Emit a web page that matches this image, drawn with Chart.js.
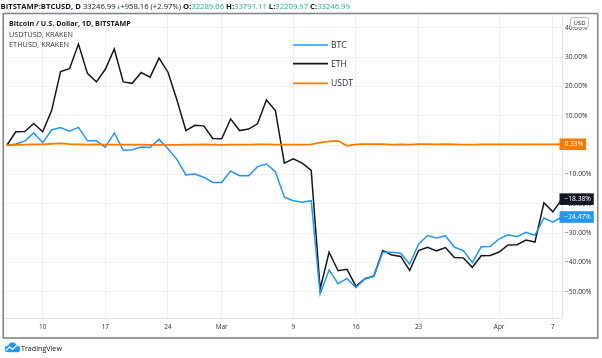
<!DOCTYPE html>
<html><head><meta charset="utf-8">
<script src="https://cdn.jsdelivr.net/npm/chart.js@4.4.0/dist/chart.umd.min.js"></script>
<style>html,body{margin:0;padding:0;background:#fff;}#wrap{position:relative;width:602px;height:358px;}</style>
</head><body><div id="wrap"><canvas id="c" width="602" height="358"></canvas></div>
<script>
const dates = ['Feb 6','Feb 7','Feb 8','Feb 9','Feb 10','Feb 11','Feb 12','Feb 13','Feb 14','Feb 15','Feb 16','Feb 17','Feb 18','Feb 19','Feb 20','Feb 21','Feb 22','Feb 23','Feb 24','Feb 25','Feb 26','Feb 27','Feb 28','Feb 29',
'Mar 1','Mar 2','Mar 3','Mar 4','Mar 5','Mar 6','Mar 7','Mar 8','Mar 9','Mar 10','Mar 11','Mar 12','Mar 13','Mar 14','Mar 15','Mar 16','Mar 17','Mar 18','Mar 19','Mar 20','Mar 21','Mar 22','Mar 23','Mar 24','Mar 25','Mar 26','Mar 27','Mar 28','Mar 29','Mar 30','Mar 31',
'Apr 1','Apr 2','Apr 3','Apr 4','Apr 5','Apr 6','Apr 7','Apr 8'];
const btc = [0,0.4,1.4,4.2,0.9,5.2,6.0,4.8,6.1,1.5,1.5,-0.7,4.2,-1.7,-1.5,-0.6,-0.8,2.0,-1.2,-4.8,-10.1,-9.8,-10.9,-12.7,
-12.7,-8.8,-10.4,-10.4,-7.3,-6.4,-9.0,-17.7,-18.9,-19.4,-18.9,-50.7,-42.5,-47.2,-45.4,-48.5,-45.6,-44.6,-36.5,-36.5,-36.8,-40.5,-33.7,-30.8,-31.6,-30.9,-34.8,-35.9,-40.0,-34.6,-34.5,
-31.9,-30.5,-31.2,-29.7,-30.7,-24.8,-26.2,-24.47];
const eth = [0,4.6,4.7,7.4,4.6,11.8,25.1,26.1,34.5,24.5,21.6,25.9,32.8,21.6,21.1,24.8,23.2,29.7,24.9,15.4,5.0,6.8,6.6,2.3,
2.2,9.0,5.0,5.5,7.3,15.4,11.8,-6.1,-4.6,-6.1,-8.6,-49.0,-36.5,-42.8,-42.3,-48.1,-45.5,-44.6,-35.9,-37.4,-37.9,-42.7,-35.9,-34.8,-36.0,-34.9,-38.3,-38.4,-41.6,-37.7,-37.6,
-36.4,-34.0,-33.9,-32.3,-33.0,-19.6,-22.7,-18.38];
const usdt = [0,0.1,0.2,0.3,0.3,0.5,0.6,0.4,0.3,0.2,0.3,0.2,0.2,0.2,0.2,0.2,0.1,0.1,0.1,0.1,0.2,0.2,0.3,0.2,
0.1,0.2,0.2,0.2,0.3,0.3,0.2,0.2,0.2,0.2,0.3,0.9,1.3,1.5,-0.2,0.3,0.4,0.4,0.4,0.2,0.3,0.2,0.4,0.4,0.3,0.4,0.3,0.2,0.2,0.3,0.3,
0.3,0.3,0.3,0.3,0.3,0.3,0.3,0.33];
const seriesNames = ['BTC','ETH','USDT'];
const seriesColors = ['#2196f3','#131722','#f57c00'];
const xTickIndex = [4,11,18,24,32,39,46,55,61];
const xTickLabels = ['10','17','24','Mar','9','16','23','Apr','7'];
const yTickValues = [-50,-40,-30,-20,-10,0,10,20,30,40];
const paneTitles = ['Bitcoin / U.S. Dollar, 1D, BITSTAMP','USDTUSD, KRAKEN','ETHUSD, KRAKEN'];
const headerParts = [
  ['BITSTAMP:BTCUSD, D ','#131722','bold'],['33246.99 ','#131722','normal'],['TRI','#26a69a','normal'],
  ['+958.16 (+2.97%) ','#131722','normal'],['O:','#131722','bold'],['32289.06 ','#26a69a','normal'],
  ['H:','#131722','bold'],['33791.11 ','#26a69a','normal'],['L:','#131722','bold'],['32209.97 ','#26a69a','normal'],
  ['C:','#131722','bold'],['33246.99','#26a69a','normal']];

const FONT = '"Open Sans","Noto Sans",sans-serif';
const mctx = document.createElement('canvas').getContext('2d');
function fitPx(text, w, weight){ mctx.font = (weight||'normal')+' 20px '+FONT; return 20*w/mctx.measureText(text).width; }
const yFont = fitPx('30.00%', 22.5);
const xFont = fitPx('Mar', 12);
const pct = v => (v<0?'\u2212':'') + Math.abs(v).toFixed(2) + '%';

const toPts = arr => arr.map((v,i)=>({x:i,y:v}));

const overlay = {
  id:'overlay',
  beforeDraw(chart){ const c=chart.ctx; c.save(); c.fillStyle='#fff'; c.fillRect(0,0,chart.width,chart.height); c.restore(); },
  afterDraw(chart){
    const c = chart.ctx, ys = chart.scales.y;
    c.save();
    c.strokeStyle='#86878c'; c.lineWidth=1.6; c.strokeRect(3.25,13.5,594.5,324.5);
    let fs = 0; {
      let tot=0; headerParts.forEach(p=>{ mctx.font=p[2]+' 20px '+FONT; tot += p[0]==='TRI'? 7 : mctx.measureText(p[0]).width; });
      fs = 20*350/tot;
    }
    let hx = 0.5; c.textBaseline='middle';
    headerParts.forEach(p=>{
      c.font = p[2]+' '+fs+'px '+FONT; c.fillStyle=p[1];
      if(p[0]==='TRI'){ const w=fs*7/20; c.beginPath(); c.moveTo(hx,9); c.lineTo(hx+w*0.65,9); c.lineTo(hx+w*0.325,4); c.closePath(); c.fill(); hx+=w; }
      else { c.textAlign='left'; c.fillText(p[0],hx,6.5); hx += c.measureText(p[0]).width; }
    });
    const ptW=[122,64,60], ptY=[24,34.5,44.5];
    paneTitles.forEach((t,i)=>{ const w=i===0?'bold':'normal'; c.font=w+' '+fitPx(t,ptW[i],w)+'px '+FONT; c.fillStyle=i===0?'#131722':'#363a45'; c.textAlign='left'; c.fillText(t,9,ptY[i]); });
    const ly=[45,63.7,83.3]; const lf=fitPx('BTC',15.8);
    seriesNames.forEach((n,i)=>{ c.strokeStyle=seriesColors[i]; c.lineWidth=1.7; c.beginPath(); c.moveTo(293,ly[i]); c.lineTo(328,ly[i]); c.stroke();
      c.font='normal '+lf+'px '+FONT; c.fillStyle='#2a2e39'; c.textAlign='left'; c.fillText(n,331,ly[i]+0.5); });
    const series=[usdt,eth,btc], cols=['#f57c00','#131722','#2196f3'];
    series.forEach((s,i)=>{ const v=s[s.length-1]; const y=ys.getPixelForValue(v); const t=pct(v);
      c.font='normal '+yFont+'px '+FONT; const w=c.measureText(t).width;
      c.fillStyle=cols[i]; c.fillRect(559.5,y-5.8,w+8,11.6); c.fillStyle='#fff'; c.textAlign='left'; c.fillText(t,564.5,y+0.3); });
    c.fillStyle='#fff'; c.strokeStyle='#b8bbc4'; c.lineWidth=1;
    c.beginPath(); if(c.roundRect){c.roundRect(570.5,17.5,18,10,2);} else {c.rect(570.5,17.5,18,10);} c.fill(); c.stroke();
    c.font='normal '+fitPx('USD',12)+'px '+FONT; c.fillStyle='#131722'; c.textAlign='center'; c.fillText('USD',579.5,22.8);
    c.fillStyle='#2196f3';
    c.beginPath(); c.arc(8,349,3.2,0,Math.PI*2); c.arc(12.5,346.5,4.2,0,Math.PI*2); c.arc(17,349,3.2,0,Math.PI*2); c.fill();
    c.fillRect(8,349,9,3.2);
    c.strokeStyle='#fff'; c.lineWidth=1.1; c.beginPath(); c.moveTo(6,350.5); c.lineTo(9.5,347); c.lineTo(12.5,349.5); c.lineTo(16.5,345.5); c.stroke();
    c.font='normal '+fitPx('TradingView',41)+'px '+FONT; c.fillStyle='#131722'; c.textAlign='left'; c.fillText('TradingView',21,348.5);
    c.restore();
  }
};

new Chart(document.getElementById('c'), {
  type:'line',
  data:{ datasets:[
    {label:seriesNames[2], data:toPts(usdt), borderColor:seriesColors[2], borderWidth:1.8, pointRadius:0, order:0},
    {label:seriesNames[0], data:toPts(btc), borderColor:seriesColors[0], borderWidth:1.5, pointRadius:0, order:1},
    {label:seriesNames[1], data:toPts(eth), borderColor:seriesColors[1], borderWidth:1.5, pointRadius:0, order:2}
  ]},
  options:{
    responsive:false, animation:false, devicePixelRatio:1,
    layout:{padding:{left:4,top:15,right:5,bottom:20}},
    plugins:{legend:{display:false}, tooltip:{enabled:false}},
    scales:{
      x:{type:'linear', min:-0.32, max:62.02,
        afterBuildTicks:s=>{ s.ticks = xTickIndex.map(v=>({value:v})); },
        afterFit:s=>{ s.height=20; },
        ticks:{autoSkip:false, maxRotation:0, padding:5, color:'#2a2e39', font:{family:FONT,size:xFont},
          callback:(v)=>{ const k=xTickIndex.indexOf(v); return k>=0?xTickLabels[k]:''; }},
        grid:{color:'#eff1f5', drawTicks:false, lineWidth:1},
        border:{display:true,color:'#e0e3eb'}},
      y:{type:'linear', position:'right', min:-58.9, max:44.4,
        afterBuildTicks:s=>{ s.ticks = yTickValues.map(v=>({value:v})); },
        afterFit:s=>{ s.width=35; },
        ticks:{padding:3, color:'#2a2e39', font:{family:FONT,size:yFont}, callback:v=>pct(v)},
        grid:{color:'#eff1f5', drawTicks:false, lineWidth:1},
        border:{display:true,color:'#e0e3eb'}}
    }
  },
  plugins:[overlay]
});
</script></body></html>
